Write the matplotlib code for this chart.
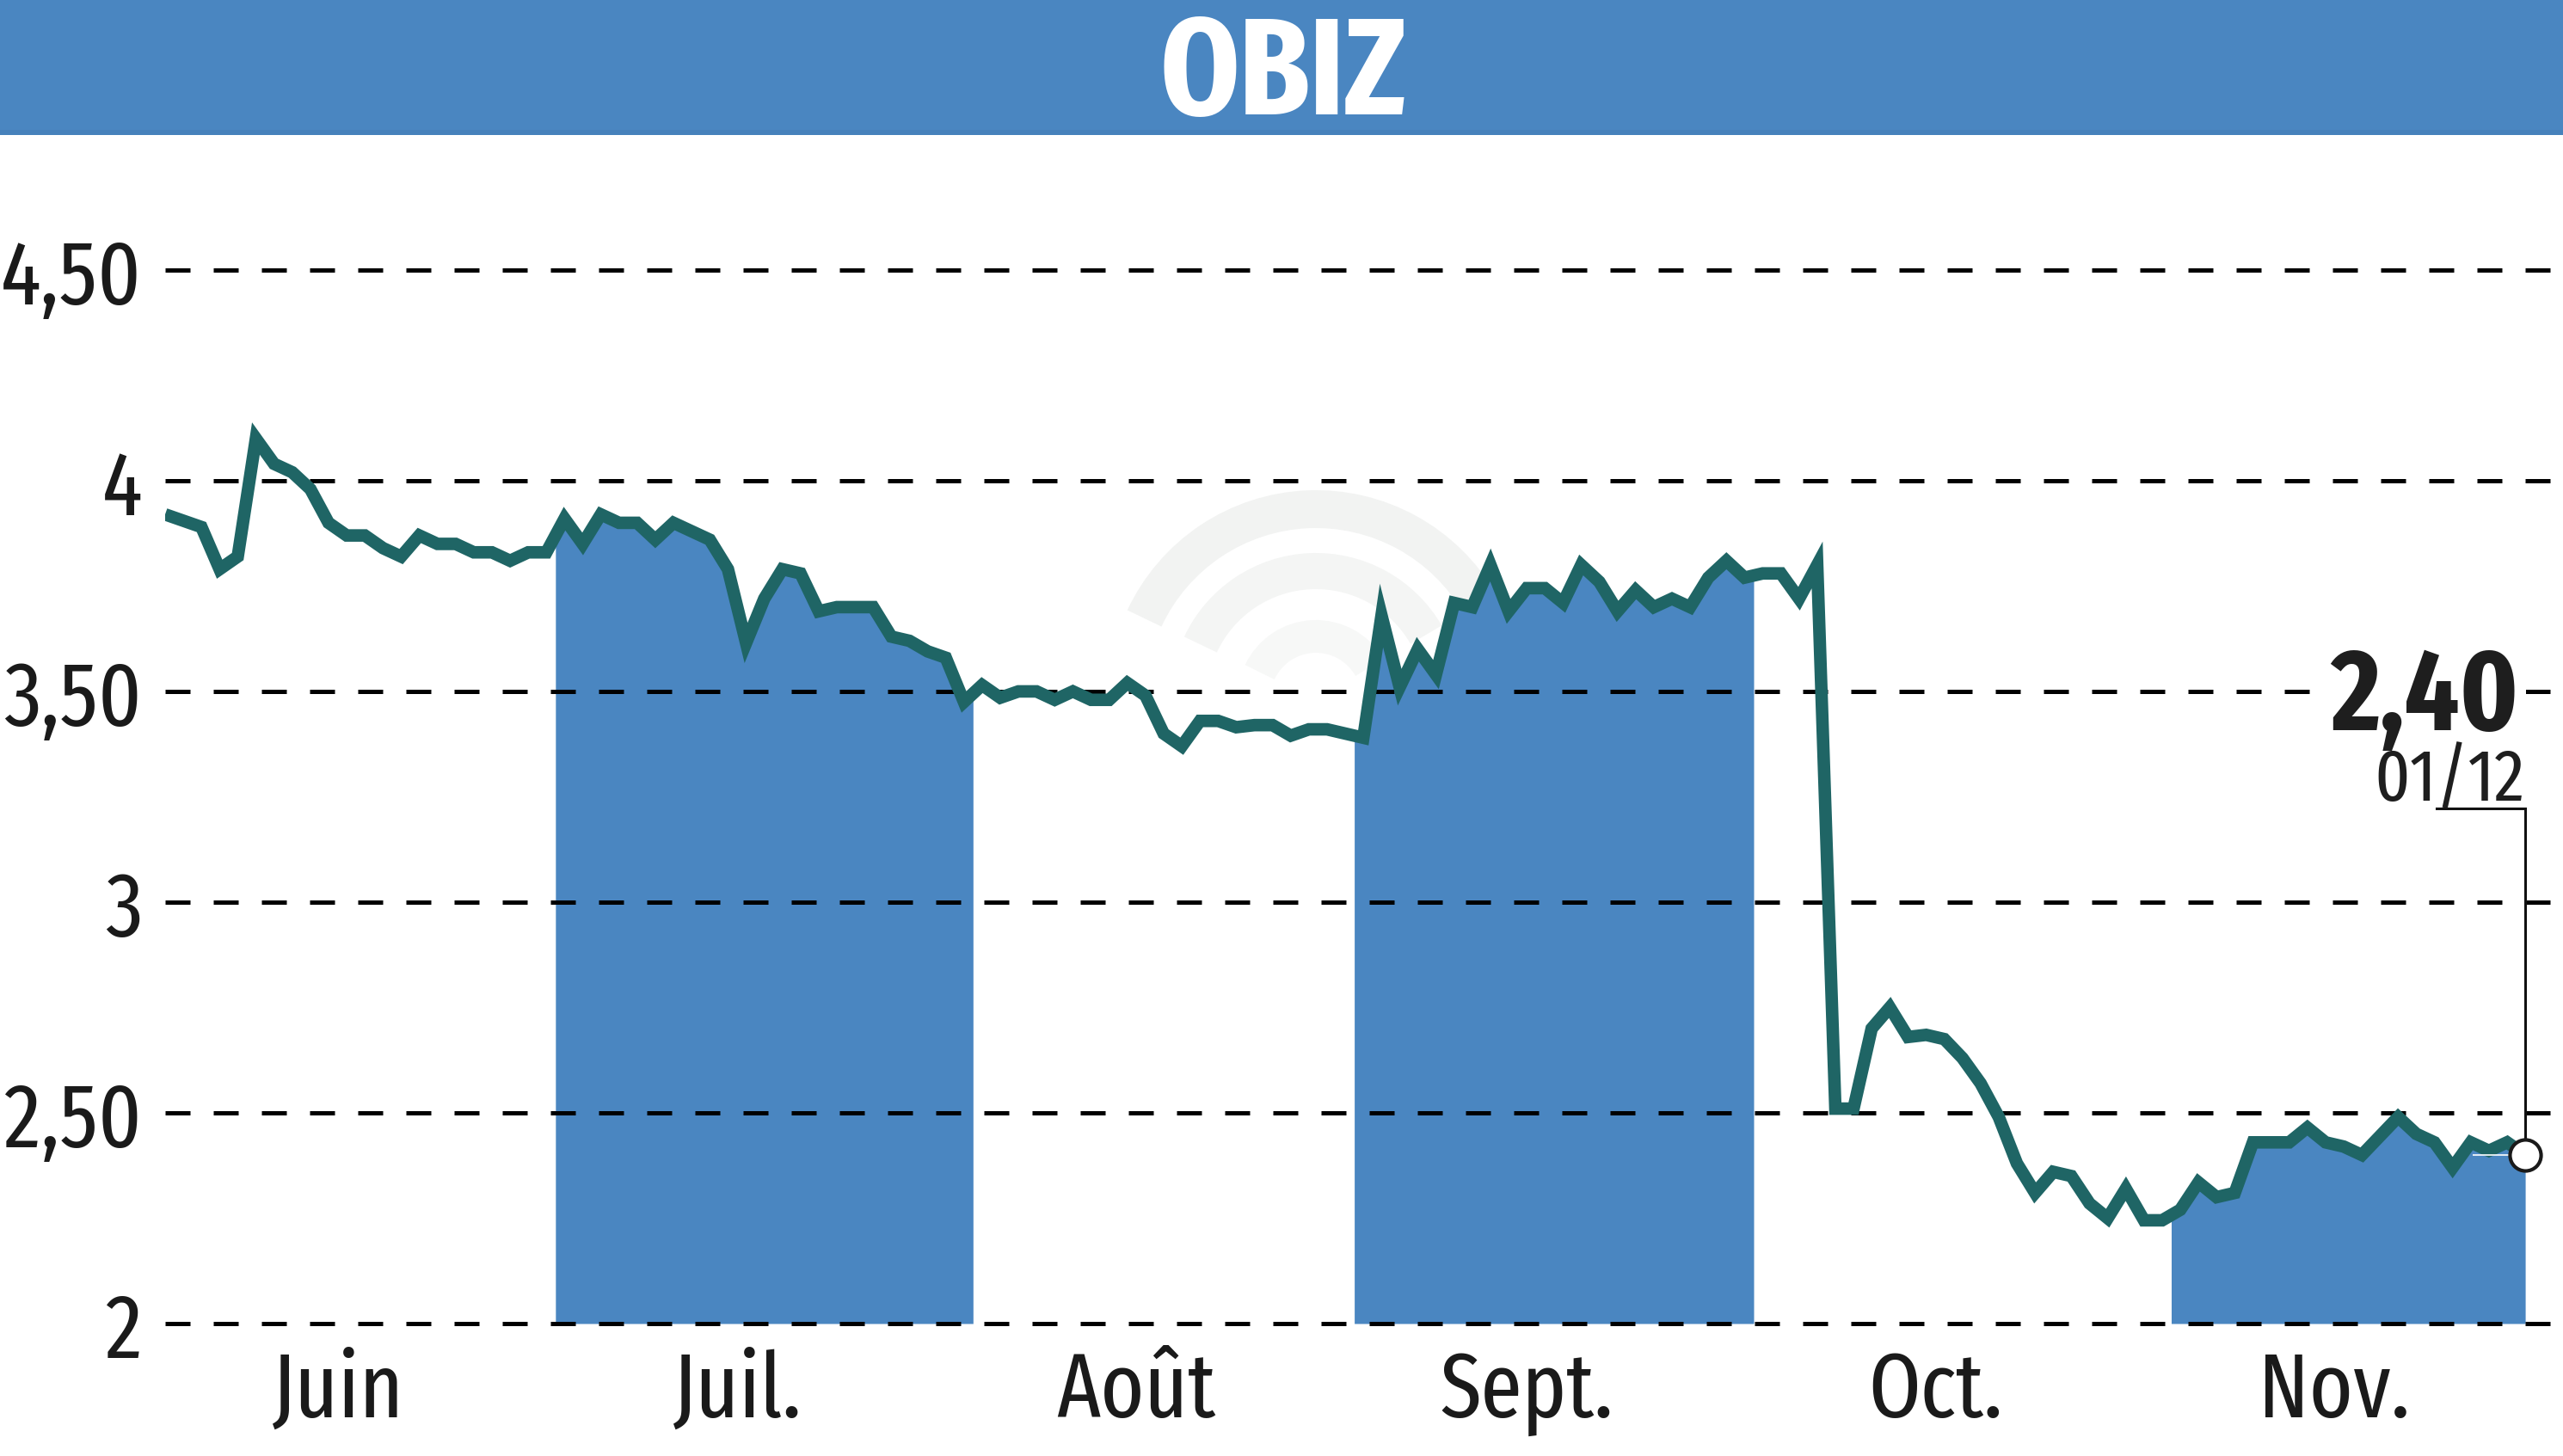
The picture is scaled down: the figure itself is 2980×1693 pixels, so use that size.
import matplotlib
matplotlib.use("Agg")
import matplotlib.pyplot as plt
import numpy as np
from matplotlib.patches import Rectangle, Arc

# ---------------- data ----------------
prices = [
    3.92, 3.905, 3.89, 3.79, 3.82, 4.10, 4.04, 4.02, 3.98, 3.90,
    3.87, 3.87, 3.84, 3.82, 3.87, 3.85, 3.85, 3.83, 3.83, 3.81,
    3.83, 3.83, 3.91, 3.85, 3.92, 3.90, 3.90, 3.86, 3.90, 3.88,
    3.86, 3.79, 3.615, 3.72, 3.79, 3.78, 3.69, 3.70, 3.70, 3.70,
    3.63, 3.62, 3.595, 3.58, 3.475, 3.515, 3.485, 3.50, 3.50, 3.48,
    3.50, 3.48, 3.48, 3.52, 3.49, 3.40, 3.37, 3.43, 3.43, 3.415,
    3.42, 3.42, 3.395, 3.41, 3.41, 3.40, 3.39, 3.68, 3.51, 3.60,
    3.54, 3.71, 3.70, 3.80, 3.69, 3.745, 3.745, 3.71, 3.80, 3.76,
    3.69, 3.74, 3.70, 3.72, 3.70, 3.77, 3.81, 3.77, 3.78, 3.78,
    3.72, 3.80, 2.51, 2.51, 2.70, 2.75, 2.68, 2.685, 2.675, 2.63,
    2.57, 2.49, 2.38, 2.31, 2.36, 2.35, 2.285, 2.25, 2.32, 2.245,
    2.245, 2.27, 2.335, 2.30, 2.31, 2.43, 2.43, 2.43, 2.465, 2.43,
    2.42, 2.40, 2.445, 2.49, 2.45, 2.43, 2.37, 2.43, 2.41, 2.43,
    2.40,
]
month_labels = ["Juin", "Juil.", "Août", "Sept.", "Oct.", "Nov."]
month_first_session = [0, 21, 44, 65, 87, 110]
month_shaded = [False, True, False, True, False, True]
y_ticks = [2.0, 2.5, 3.0, 3.5, 4.0, 4.5]
y_tick_labels = ["2", "2,50", "3", "3,50", "4", "4,50"]
title = "OBIZ"
last_date = "01/12"

# ---------------- style ----------------
W, H = 2980, 1693
DPI = 100
BLUE = "#4a86c1"
LINE = "#1f6565"
TXT = "#1a1a1a"
XCOND = ["Fira Sans Extra Condensed", "Fira Sans Condensed", "DejaVu Sans"]

fig = plt.figure(figsize=(W / DPI, H / DPI), dpi=DPI)
fig.patch.set_facecolor("white")

# background layer (banner + faint watermark) in pixel coordinates
bg = fig.add_axes([0, 0, 1, 1], zorder=0)
bg.set_xlim(0, W)
bg.set_ylim(H, 0)
bg.axis("off")
bg.add_patch(Rectangle((0, 0), W, 157, facecolor=BLUE, edgecolor="none"))
bg.add_patch(Rectangle((0, 151), W, 6, facecolor="#4681bb", edgecolor="none"))
for r, lw, col in [(220, 44, "#f2f3f2"), (148, 42, "#f4f5f4"), (72, 38, "#f7f8f7")]:
    bg.add_patch(Arc((1530, 812), 2 * r, 2 * r, theta1=205, theta2=330,
                     lw=lw * 72 / DPI, color=col))
bg.text(1492, 90, title, color="white", fontsize=115, fontweight="bold",
        family=XCOND, ha="center", va="center")

# main axes
ax_left_px, ax_right_px = 192, W
ax_top_px, ax_bot_px = 191.4, 1548.8
ax = fig.add_axes([ax_left_px / W, 1 - ax_bot_px / H,
                   (ax_right_px - ax_left_px) / W, (ax_bot_px - ax_top_px) / H],
                  zorder=1)
ax.patch.set_alpha(0)

idx = np.arange(len(prices))
vals = np.array(prices)
n = len(prices)
ax.set_xlim(0, 132.08)
ax.set_ylim(1.98, 4.75)

# shaded months (area under the curve)
starts = month_first_session
ends = month_first_session[1:] + [n - 1]
for s, e, sh in zip(starts, ends, month_shaded):
    if not sh:
        continue
    a = s + 0.5
    b = e + 0.5 if e < n - 1 else n - 1
    xx = np.linspace(a, b, 400)
    yy = np.interp(xx, idx, vals)
    ax.fill_between(xx, y_ticks[0], yy, color=BLUE, linewidth=0, zorder=1)

# grid
ax.set_axisbelow("line")
ax.set_yticks(y_ticks)
ax.set_yticklabels(y_tick_labels)
ax.yaxis.grid(True, color="black", linewidth=3.6, linestyle=(0, (5.8, 5.4)))
ax.xaxis.grid(False)

# price line
ax.plot(idx, vals, color=LINE, linewidth=10.5, solid_joinstyle="miter",
        solid_capstyle="butt", zorder=3)

# month labels
label_pos = [(s + e2) / 2 - 1 for s, e2 in zip(starts, month_first_session[1:] + [n])]
ax.set_xticks(label_pos)
ax.set_xticklabels(month_labels)

for sp in ax.spines.values():
    sp.set_visible(False)
ax.tick_params(axis="both", length=0)
ax.tick_params(axis="y", pad=19, labelsize=76, labelcolor=TXT)
ax.tick_params(axis="x", pad=14, labelsize=76, labelcolor=TXT)
for lab in ax.get_xticklabels() + ax.get_yticklabels():
    lab.set_family(XCOND)

# last value annotation
lx, ly = idx[-1], vals[-1]
ax.hlines(ly, lx - 2.9, lx - 0.6, color="white", linewidth=1.2, zorder=3.5)
corner_y = ly + 0.8215
ax.plot([lx - 4.9, lx, lx], [corner_y, corner_y, ly], color="#111111",
        linewidth=2.2, zorder=4, solid_joinstyle="miter")
ax.plot([lx], [ly], marker="o", markersize=26, markerfacecolor="white",
        markeredgecolor="#1a1a1a", markeredgewidth=3, zorder=5)
ax.annotate(f"{ly:.2f}".replace(".", ","), xy=(lx, ly), xytext=(-7, 494),
            textcoords="offset pixels", ha="right", va="baseline",
            fontsize=97, fontweight="bold", family=XCOND, color="#1e1e1e",
            bbox=dict(boxstyle="square,pad=0.06", facecolor="white", edgecolor="none"),
            zorder=6)
ax.annotate(last_date, xy=(lx, ly), xytext=(-1, 412),
            textcoords="offset pixels", ha="right", va="baseline",
            fontsize=62, family=XCOND, color="#1e1e1e", zorder=7)

fig.savefig("out.png", dpi=DPI)
